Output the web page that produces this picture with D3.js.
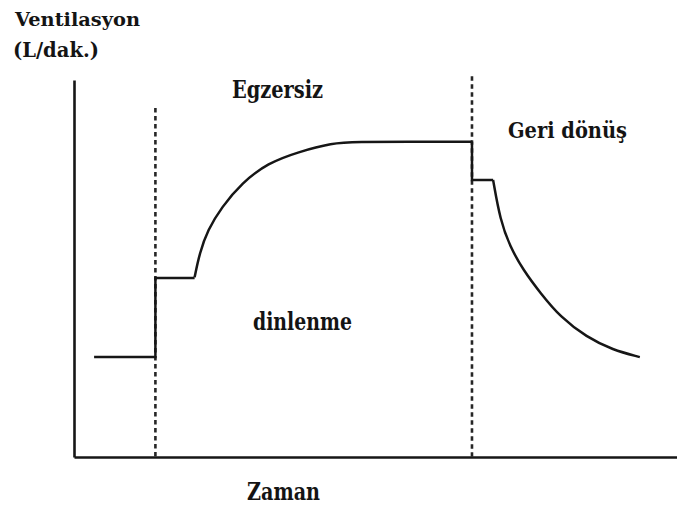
<!DOCTYPE html>
<html>
<head>
<meta charset="utf-8">
<script src="https://cdn.jsdelivr.net/npm/d3@7"></script>
<style>
  html, body { margin: 0; padding: 0; background: #fff; }
  svg { display: block; }
</style>
</head>
<body>
<svg id="chart" width="677" height="509"></svg>
<script>
// Ventilation (L/min) over time: rest, exercise and recovery phases
const restTime = [2.0, 8.1, 8.1, 12.0];
const restVent = [26.5, 26.5, 47.5, 47.5];

const exerciseTime = [12.0, 12.5, 13.3, 14.7, 16.7, 19.3, 22.3, 25.7, 28.0, 34.0, 39.6];
const exerciseVent = [47.7, 54.1, 60.2, 66.3, 72.7, 78.0, 80.9, 83.3, 83.6, 83.6, 83.6];

const dropTime = [39.6, 39.6, 41.7];
const dropVent = [83.6, 73.5, 73.5];

const recoveryTime = [41.7, 42.4, 43.4, 44.7, 46.4, 48.4, 51.0, 53.6, 56.3];
const recoveryVent = [73.5, 62.9, 55.7, 49.6, 43.5, 37.1, 31.8, 28.4, 26.5];

// Phase boundaries (time) and how far up each divider reaches (ventilation)
const phaseTimes = [8.1, 39.6];
const phaseTops = [92.6, 101.0];

// Phase and axis labels
const phaseLabels = ["Egzersiz", "Geri dönüş", "dinlenme"];
const yTitle = ["Ventilasyon", "(L/dak.)"];
const xTitle = "Zaman";

const svg = d3.select("#chart");
const x = d3.scaleLinear().domain([0, 60]).range([74, 677]);
const y = d3.scaleLinear().domain([0, 100]).range([457, 80]);

const ink = "#161616";
const serif = "'DejaVu Serif', 'Liberation Serif', serif";

// Axes: bare lines without ticks
svg.append("g")
  .attr("transform", `translate(0,${y(0)})`)
  .call(d3.axisBottom(x).ticks(0).tickSizeOuter(0))
  .call(g => g.select(".domain").attr("stroke", ink).attr("stroke-width", 2.6));
svg.append("g")
  .attr("transform", `translate(${x(0)},0)`)
  .call(d3.axisLeft(y).ticks(0).tickSizeOuter(0))
  .call(g => g.select(".domain").attr("stroke", ink).attr("stroke-width", 2.6));

// Dotted phase dividers
svg.selectAll(".divider")
  .data(phaseTimes)
  .join("line")
  .attr("class", "divider")
  .attr("x1", d => x(d)).attr("x2", d => x(d))
  .attr("y1", (d, i) => y(phaseTops[i])).attr("y2", y(0))
  .attr("stroke", "#262626")
  .attr("stroke-width", 2.6)
  .attr("stroke-dasharray", "4.5,3.5");

const pts = (t, v) => t.map((d, i) => [d, v[i]]);
const straight = d3.line().x(d => x(d[0])).y(d => y(d[1]));
const smooth = d3.line().x(d => x(d[0])).y(d => y(d[1])).curve(d3.curveBasis);

const traces = [
  { gen: straight, data: pts(restTime, restVent) },
  { gen: smooth, data: pts(exerciseTime, exerciseVent) },
  { gen: straight, data: pts(dropTime, dropVent) },
  { gen: smooth, data: pts(recoveryTime, recoveryVent) }
];

svg.selectAll(".trace")
  .data(traces)
  .join("path")
  .attr("class", "trace")
  .attr("d", d => d.gen(d.data))
  .attr("fill", "none")
  .attr("stroke", ink)
  .attr("stroke-width", 2.5)
  .attr("stroke-linejoin", "miter");

// Text labels
const labels = [
  { text: yTitle[0], x: 15, y: 26, size: 19, len: 125 },
  { text: yTitle[1], x: 13, y: 57, size: 20, len: 86 },
  { text: phaseLabels[0], x: 232, y: 98, size: 24, len: 91 },
  { text: phaseLabels[1], x: 508, y: 138, size: 22, len: 119 },
  { text: phaseLabels[2], x: 253, y: 330, size: 24, len: 99 },
  { text: xTitle, x: 247, y: 500, size: 24, len: 73 }
];

svg.selectAll(".label")
  .data(labels)
  .join("text")
  .attr("class", "label")
  .attr("x", d => d.x)
  .attr("y", d => d.y)
  .attr("font-family", serif)
  .attr("font-weight", "bold")
  .attr("fill", "#141414")
  .attr("font-size", d => d.size)
  .attr("textLength", d => d.len)
  .attr("lengthAdjust", "spacingAndGlyphs")
  .text(d => d.text);
</script>
</body>
</html>
